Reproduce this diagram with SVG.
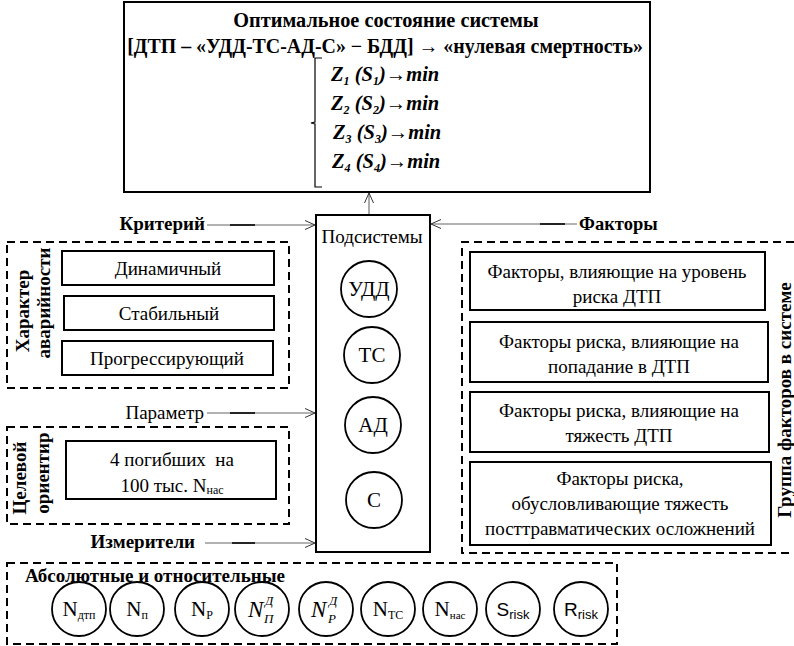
<svg xmlns="http://www.w3.org/2000/svg" width="794" height="646" viewBox="0 0 794 646" font-family="'Liberation Serif','Times New Roman',serif">
<defs>
<marker id="arr" viewBox="0 0 10 10" refX="10" refY="5" markerWidth="10" markerHeight="10" markerUnits="userSpaceOnUse" orient="auto">
<polyline points="0,0.5 10,5 0,9.5" fill="none" stroke="#333" stroke-width="1"/>
</marker>
<style>
text{font-family:"Liberation Serif","Times New Roman",serif;fill:#000}
.t{font-size:19px}
.b{font-size:19px;font-weight:bold}
.z{font-size:20.5px;font-weight:bold;font-style:italic}
.box{fill:#fff;stroke:#000;stroke-width:2}
.dash{fill:none;stroke:#000;stroke-width:2;stroke-dasharray:8,5}
.c{fill:#fff;stroke:#000;stroke-width:1.8}
.conn{stroke:#666;stroke-width:1.1;fill:none}
.dk{stroke:#000;stroke-width:1.6}
.ss{font-family:"Liberation Sans",Arial,sans-serif}
</style>
</defs>
<rect width="794" height="646" fill="#fff"/>

<g id="top">
<rect class="box" x="124" y="2" width="526" height="190"/>
<text class="b" x="386" y="27" text-anchor="middle" style="font-size:20.3px">Оптимальное состояние системы</text>
<text class="b" x="385" y="53" text-anchor="middle" style="font-size:19.9px">[ДТП – «УДД-ТС-АД-С» − БДД] → «нулевая смертность»</text>
<path d="M322,58 H315 V122 L311,123 L315,124 V187 H322" fill="none" stroke="#000" stroke-width="1.2"/>
<text class="z" x="331" y="81">Z<tspan font-size="12" dy="4">1</tspan><tspan dy="-4"> (S</tspan><tspan font-size="12" dy="4">1</tspan><tspan dy="-4">)→min</tspan></text>
<text class="z" x="331" y="110">Z<tspan font-size="12" dy="4">2</tspan><tspan dy="-4"> (S</tspan><tspan font-size="12" dy="4">2</tspan><tspan dy="-4">)→min</tspan></text>
<text class="z" x="333" y="139">Z<tspan font-size="12" dy="4">3</tspan><tspan dy="-4"> (S</tspan><tspan font-size="12" dy="4">3</tspan><tspan dy="-4">)→min</tspan></text>
<text class="z" x="332" y="168">Z<tspan font-size="12" dy="4">4</tspan><tspan dy="-4"> (S</tspan><tspan font-size="12" dy="4">4</tspan><tspan dy="-4">)→min</tspan></text>
</g>

<g id="connectors">
<line class="conn" x1="369" y1="215" x2="369" y2="193" marker-end="url(#arr)"/>
<line class="conn" x1="207" y1="225" x2="315" y2="225" marker-end="url(#arr)"/>
<line class="dk" x1="230" y1="225" x2="255" y2="225"/>
<line class="conn" x1="577" y1="224" x2="431" y2="224" marker-end="url(#arr)"/>
<line class="dk" x1="540" y1="224" x2="565" y2="224"/>
<line class="conn" x1="207" y1="413" x2="315" y2="413" marker-end="url(#arr)"/>
<line class="dk" x1="230" y1="413" x2="255" y2="413"/>
<line class="conn" x1="205" y1="543" x2="315" y2="543" marker-end="url(#arr)"/>
<line class="dk" x1="232" y1="543" x2="255" y2="543"/>
</g>

<g id="subsystems">
<rect class="box" x="316" y="215" width="114" height="337"/>
<text class="t" x="372" y="243" text-anchor="middle">Подсистемы</text>
<g id="udd"><circle class="c" cx="369" cy="289" r="28"/><text x="369" y="296" font-size="21" text-anchor="middle">УДД</text></g>
<g id="ts"><circle class="c" cx="372" cy="355" r="28"/><text x="372" y="362" font-size="21" text-anchor="middle">ТС</text></g>
<g id="ad"><circle class="c" cx="373" cy="425" r="28"/><text x="373" y="432" font-size="21" text-anchor="middle">АД</text></g>
<g id="s"><circle class="c" cx="374" cy="500" r="28"/><text x="374" y="507" font-size="21" text-anchor="middle">С</text></g>
</g>

<g id="criterion">
<text class="b" x="205" y="230" text-anchor="end">Критерий</text>
<rect class="dash" x="7" y="242" width="282" height="146"/>
<text class="b" transform="translate(29,311) rotate(-90)" text-anchor="middle">Характер</text>
<text class="b" transform="translate(50,303) rotate(-90)" text-anchor="middle">аварийности</text>
<g id="dyn"><rect class="box" x="62" y="251" width="212" height="34"/><text class="t" x="168" y="275" text-anchor="middle">Динамичный</text></g>
<g id="stab"><rect class="box" x="64" y="296" width="210" height="34"/><text class="t" x="169" y="320" text-anchor="middle">Стабильный</text></g>
<g id="prog"><rect class="box" x="62" y="341" width="211" height="34"/><text class="t" x="167" y="365" text-anchor="middle">Прогрессирующий</text></g>
</g>

<g id="parameter">
<text class="t" x="204" y="419" text-anchor="end">Параметр</text>
<rect class="dash" x="7" y="427" width="282" height="97"/>
<text class="b" transform="translate(26,478) rotate(-90)" text-anchor="middle">Целевой</text>
<text class="b" transform="translate(49,473) rotate(-90)" text-anchor="middle">ориентир</text>
<g id="target"><rect class="box" x="66" y="441" width="210" height="58"/>
<text class="t" x="172" y="466" text-anchor="middle">4 погибших&#160; на</text>
<text class="t" x="172" y="492" text-anchor="middle">100 тыс. N<tspan font-size="12" dy="2">нас</tspan></text></g>
</g>

<g id="factors">
<text class="b" x="579" y="230" style="font-size:18.5px">Факторы</text>
<path class="dash" d="M794,242 H462 V553 H794"/>
<text class="b" transform="translate(791,400) rotate(-90)" text-anchor="middle">Группа факторов в системе</text>
<g id="f1"><rect class="box" x="470" y="252" width="295" height="58"/>
<text class="t" x="617" y="278" text-anchor="middle">Факторы, влияющие на уровень</text>
<text class="t" x="617" y="303" text-anchor="middle">риска ДТП</text></g>
<g id="f2"><rect class="box" x="470" y="322" width="298" height="60"/>
<text class="t" x="619" y="348" text-anchor="middle">Факторы риска, влияющие на</text>
<text class="t" x="619" y="373" text-anchor="middle">попадание в ДТП</text></g>
<g id="f3"><rect class="box" x="470" y="392" width="299" height="60"/>
<text class="t" x="619" y="417" text-anchor="middle">Факторы риска, влияющие на</text>
<text class="t" x="619" y="442" text-anchor="middle">тяжесть ДТП</text></g>
<g id="f4"><rect class="box" x="470" y="462" width="301" height="83"/>
<text class="t" x="620" y="485" text-anchor="middle">Факторы риска,</text>
<text class="t" x="620" y="510" text-anchor="middle">обусловливающие тяжесть</text>
<text class="t" x="620" y="535" text-anchor="middle">посттравматических осложнений</text></g>
</g>

<g id="meters">
<text class="b" x="195" y="548" text-anchor="end">Измерители</text>
<rect class="dash" x="7" y="563" width="610" height="81"/>
<text class="b" x="25" y="582">Абсолютные и относительные</text>
<g id="m1"><circle class="c" cx="79" cy="609" r="27"/><text x="79" y="616" font-size="21" text-anchor="middle">N<tspan font-size="12" dy="3">дтп</tspan></text></g>
<g id="m2"><circle class="c" cx="137" cy="609" r="27"/><text x="137" y="616" font-size="21" text-anchor="middle">N<tspan font-size="12" dy="3">п</tspan></text></g>
<g id="m3"><circle class="c" cx="202" cy="609" r="27"/><text x="202" y="616" font-size="21" text-anchor="middle">N<tspan font-size="12" dy="3">P</tspan></text></g>
<g id="m4"><circle class="c" cx="262" cy="609" r="27"/><text x="248" y="617" font-size="23" font-style="italic">N</text><text x="265" y="605" font-size="13" font-style="italic">Д</text><text x="264" y="623" font-size="13" font-style="italic">П</text></g>
<g id="m5"><circle class="c" cx="326" cy="609" r="27"/><text x="311" y="617" font-size="23" font-style="italic">N</text><text x="329" y="605" font-size="13" font-style="italic">Д</text><text x="328" y="623" font-size="13" font-style="italic">P</text></g>
<g id="m6"><circle class="c" cx="388" cy="609" r="27"/><text x="388" y="616" font-size="21" text-anchor="middle">N<tspan font-size="12" dy="3">TC</tspan></text></g>
<g id="m7"><circle class="c" cx="450" cy="609" r="27"/><text x="450" y="616" font-size="21" text-anchor="middle">N<tspan font-size="11" dy="3">нас</tspan></text></g>
<g id="m8"><circle class="c" cx="513" cy="609" r="27"/><text class="ss" x="513" y="616" font-size="19" text-anchor="middle">S<tspan font-size="13" dy="3">risk</tspan></text></g>
<g id="m9"><circle class="c" cx="581" cy="609" r="27"/><text class="ss" x="581" y="616" font-size="19" text-anchor="middle">R<tspan font-size="13" dy="3">risk</tspan></text></g>
</g>
</svg>
